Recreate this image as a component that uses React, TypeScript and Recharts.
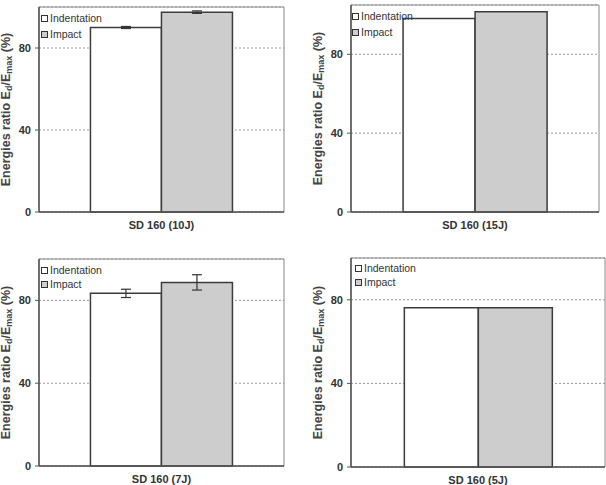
import React from "react";
import {
  BarChart,
  Bar,
  XAxis,
  YAxis,
  CartesianGrid,
  ErrorBar,
  Legend,
  ReferenceArea,
} from "recharts";

// one panel per impact energy
const categories = ["SD 160 (10J)", "SD 160 (15J)", "SD 160 (7J)", "SD 160 (5J)"];
const indentation = [90, 98.2, 83.4, 76.2];
const impact = [97.5, 101.6, 88.7, 76.2];
const indentationErr = [0.5, 0, 2, 0];
const impactErr = [0.6, 0, 3.7, 0];
const yMax = [100, 105, 100, 100];
const yTicks = [0, 40, 80];
const seriesNames = ["Indentation", "Impact"];
const seriesFills = ["#ffffff", "#cdcdcd"];

const FONT = "Arial, 'Liberation Sans', sans-serif";

interface PanelLayout {
  left: number;
  top: number;
  marginTop: number;
  marginRight: number;
  yAxisWidth: number;
  xAxisHeight: number;
  legendLeft: number;
  legendTop: number;
  legendRow: number;
}

const layouts: PanelLayout[] = [
  { left: 0, top: 0, marginTop: 7, marginRight: 19, yAxisWidth: 39, xAxisHeight: 33, legendLeft: 41, legendTop: 10, legendRow: 16 },
  { left: 303, top: 0, marginTop: 5, marginRight: 7, yAxisWidth: 48, xAxisHeight: 33, legendLeft: 49, legendTop: 8, legendRow: 16 },
  { left: 0, top: 245, marginTop: 14, marginRight: 19, yAxisWidth: 39, xAxisHeight: 24, legendLeft: 41, legendTop: 18, legendRow: 14 },
  { left: 303, top: 245, marginTop: 13, marginRight: 1, yAxisWidth: 48, xAxisHeight: 23, legendLeft: 52, legendTop: 16, legendRow: 14 },
];

const YLabel = (props: any) => {
  const vb = props.viewBox || {};
  const cx = vb.x + vb.width - 33;
  const cy = vb.y + vb.height / 2;
  return (
    <text
      x={cx}
      y={cy}
      transform={`rotate(-90, ${cx}, ${cy})`}
      textAnchor="middle"
      dominantBaseline="central"
      fontSize={12.5}
      fontWeight="bold"
      fill="#444"
      fontFamily={FONT}
    >
      Energies ratio E
      <tspan fontSize={9} dy={3}>d</tspan>
      <tspan dy={-3}>/E</tspan>
      <tspan fontSize={9} dy={3}>max</tspan>
      <tspan dy={-3}> (%)</tspan>
    </text>
  );
};

const renderLegend = (row: number) => () => (
  <div style={{ fontFamily: FONT, fontSize: 10.5, color: "#333" }}>
    {seriesNames.map((name, i) => (
      <div
        key={name}
        style={{ display: "flex", alignItems: "center", height: row }}
      >
        <span
          style={{
            display: "inline-block",
            width: 5,
            height: 5,
            border: "1px solid #333",
            background: seriesFills[i],
            marginRight: 2,
          }}
        />
        {name}
      </div>
    ))}
  </div>
);

function Panel({ idx }: { idx: number }) {
  const l = layouts[idx];
  const data = [
    {
      name: categories[idx],
      indentation: indentation[idx],
      impact: impact[idx],
      indentationErr: indentationErr[idx],
      impactErr: impactErr[idx],
    },
  ];
  return (
    <div style={{ position: "absolute", left: l.left, top: l.top }}>
      <BarChart
        width={303}
        height={245}
        data={data}
        barCategoryGap="21%"
        barGap={0}
        margin={{ top: l.marginTop, right: l.marginRight, left: 0, bottom: 0 }}
      >
        <CartesianGrid vertical={false} stroke="#999" strokeDasharray="2 2" />
        {/* plot frame */}
        <ReferenceArea
          y1={0}
          y2={yMax[idx]}
          fill="none"
          stroke="#888"
          strokeWidth={1}
          ifOverflow="visible"
        />
        <XAxis
          dataKey="name"
          height={l.xAxisHeight}
          tickLine={false}
          tickMargin={3}
          axisLine={{ stroke: "#555", strokeWidth: 1.5 }}
          tick={{ fontSize: 11, fontWeight: "bold", fill: "#333", fontFamily: FONT }}
        />
        <YAxis
          width={l.yAxisWidth}
          domain={[0, yMax[idx]]}
          ticks={yTicks}
          tickSize={4}
          tickMargin={4}
          tickLine={{ stroke: "#555" }}
          axisLine={{ stroke: "#555", strokeWidth: 1.5 }}
          tick={{ fontSize: 11, fontWeight: "bold", fill: "#333", fontFamily: FONT }}
          label={<YLabel />}
        />
        <Legend
          layout="horizontal"
          verticalAlign="middle"
          align="center"
          content={renderLegend(l.legendRow)}
          wrapperStyle={{ left: l.legendLeft, top: l.legendTop, width: "auto", height: "auto" }}
        />
        <Bar
          dataKey="indentation"
          name={seriesNames[0]}
          fill={seriesFills[0]}
          stroke="#3c3c3c"
          strokeWidth={1.5}
          isAnimationActive={false}
        >
          <ErrorBar dataKey="indentationErr" width={5} stroke="#333" strokeWidth={1.2} />
        </Bar>
        <Bar
          dataKey="impact"
          name={seriesNames[1]}
          fill={seriesFills[1]}
          stroke="#3c3c3c"
          strokeWidth={1.5}
          isAnimationActive={false}
        >
          <ErrorBar dataKey="impactErr" width={5} stroke="#333" strokeWidth={1.2} />
        </Bar>
      </BarChart>
    </div>
  );
}

export default function App() {
  return (
    <div
      style={{
        position: "absolute",
        left: 0,
        top: 0,
        width: 606,
        height: 485,
        background: "#fff",
        overflow: "hidden",
      }}
    >
      {categories.map((_, i) => (
        <Panel key={i} idx={i} />
      ))}
    </div>
  );
}
